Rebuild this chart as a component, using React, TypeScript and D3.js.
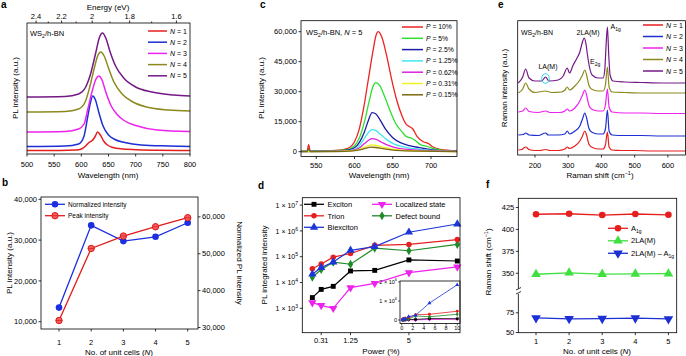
import React from "react";
import * as d3 from "d3";

const FONT = "'Liberation Sans', Arial, Helvetica, sans-serif";

// ---------------- Panel a data (wavelength nm, offset PL a.u.) ----------------
const aN1 = [[500,3.5],[560,3.6],[590,4],[600,5],[608,8],[614,11.5],[620,13.5],[625,17],[630,22],[635,19],[641,13],[648,9],[658,6.5],[675,5],[700,4.3],[740,3.8],[800,3.5]];
const aN2 = [[500,7.5],[570,8],[595,10],[605,18],[612,38],[617,52],[621,58],[626,54],[632,42],[640,28],[650,19],[660,15],[680,11.5],[710,9],[760,8],[800,7.5]];
const aN3 = [[500,22],[570,22.5],[595,25],[605,30],[612,45],[620,63],[627,75],[632,78],[638,74],[645,62],[655,48],[665,40],[680,33],[700,28.5],[740,24],[800,22.5]];
const aN4 = [[500,42],[570,42.5],[595,45],[607,52],[615,66],[623,84],[630,98],[636,102],[642,98],[650,86],[660,72],[675,60],[695,52],[720,47],[760,44],[800,43]];
const aN5 = [[500,57],[570,57.5],[595,60],[607,66],[617,80],[626,100],[633,116],[639,121],[645,116],[653,102],[663,88],[678,76],[700,67],[730,62],[770,59],[800,58]];
const aSeries = [aN1, aN2, aN3, aN4, aN5];
const aLegend = ["1", "2", "3", "4", "5"];
const aWaveTicks = [500, 550, 600, 650, 700, 750, 800];
const aEnergyTicks = [2.4, 2.2, 2.0, 1.8, 1.6];
const aEnergyMinor = [2.3, 2.1, 1.9, 1.7];

// ---------------- Panel b data ----------------
const bN = [1, 2, 3, 4, 5];
const bNormalized = [13460, 33610, 29750, 30810, 34250];
const bPeak = [31900, 51440, 54800, 57330, 59780];
const bPeakErr = [500, 900, 900, 1000, 900];
const bLeftTicks = [10000, 20000, 30000, 40000];
const bRightTicks = [30000, 40000, 50000, 60000];

// ---------------- Panel c data ----------------
const cP10 = [[530,300],[538,400],[540,3500],[542,400],[560,400],[580,800],[590,1500],[600,5000],[606,11000],[612,22000],[618,36000],[624,50000],[628,58000],[631,60000],[636,57000],[642,48000],[648,37000],[655,26000],[662,18000],[668,13500],[672,12500],[676,11500],[682,7500],[690,5000],[697,4000],[702,2500],[712,1200],[734,500]];
const cP5 = [[530,200],[570,400],[590,1000],[600,3000],[607,7500],[613,15000],[619,25000],[624,32500],[628,34500],[633,33000],[640,27000],[647,20000],[654,14000],[662,10000],[668,7500],[673,7000],[678,6000],[685,3800],[695,2600],[705,1400],[715,700],[734,300]];
const cP25 = [[530,150],[570,300],[590,800],[600,2000],[607,5000],[613,10000],[618,15500],[623,19500],[628,18800],[634,15500],[641,11000],[650,7000],[660,4500],[672,3000],[685,2000],[700,1000],[715,400],[734,200]];
const cP125 = [[530,100],[570,200],[595,700],[604,2000],[611,5500],[617,9000],[623,11000],[628,10500],[635,8300],[643,5800],[652,3800],[663,2500],[678,1500],[695,800],[715,300],[734,150]];
const cP062 = [[530,80],[570,150],[595,500],[605,1500],[612,3800],[618,5600],[623,6500],[629,6000],[636,4600],[645,3000],[656,1800],[670,1100],[690,600],[715,250],[734,100]];
const cP031 = [[530,60],[575,120],[598,500],[608,1400],[615,2600],[622,3400],[629,3100],[637,2300],[647,1400],[660,800],[680,400],[710,150],[734,80]];
const cP015 = [[530,50],[538,60],[540,1500],[542,60],[575,100],[598,400],[608,1000],[615,1800],[621,2300],[628,2100],[637,1500],[648,900],[662,500],[685,250],[734,60]];
const cSeries = [cP10, cP5, cP25, cP125, cP062, cP031, cP015];
const cLegend = ["10%", "5%", "2.5%", "1.25%", "0.62%", "0.31%", "0.15%"];
const cYTicks = [0, 15000, 30000, 45000, 60000];
const cXTicks = [550, 600, 650, 700];

// ---------------- Panel d data ----------------
const dPower = [0.15, 0.31, 0.62, 1.25, 2.5, 5, 10];
const dExciton = [2600, 5400, 7100, 28000, 29500, 75000, 68000];
const dTrion = [34000, 52000, 96000, 133000, 275000, 300000, 460000];
const dBiexciton = [21000, 38000, 62000, 177000, 245000, 890000, 1850000];
const dLocalized = [1650, 1300, 1000, 6300, 9300, 24000, 40000];
const dDefect = [16000, 32000, 61000, 51000, 213000, 170000, 300000];
const dNames = ["Exciton", "Trion", "Biexciton", "Localized state", "Defect bound"];
const dYExp = [3, 4, 5, 6, 7];
const dXTicks = [0.31, 1.25, 5];
const dInsetXTicks = [0, 2, 4, 6, 8, 10];
const dInsetYTicks = [0, 1, 2];

// ---------------- Panel e data (Raman shift, offset intensity) ----------------
const eN1 = [[150,5],[160,5.5],[172,8],[182,5.5],[200,4.5],[215,4.5],[232,5.5],[245,4.5],[270,4.5],[290,6],[297,8],[304,6.5],[320,9],[335,14],[343,19],[350,24],[356,19],[362,11],[370,8],[390,6],[405,6],[412,10],[418,23],[423,8],[432,5],[460,4.5],[500,4.5],[550,4],[600,4],[653,4]];
const eN2 = [[150,20],[165,20.5],[172,22],[182,20],[210,19.5],[232,22],[240,20],[270,20],[290,21],[297,24],[304,21],[320,24],[335,29],[343,36],[350,42],[356,36],[362,27],[370,23],[390,21],[405,21],[412,26],[418,45],[423,24],[432,20],[470,19.5],[520,19.5],[580,19],[653,19]];
const eN3 = [[150,43],[163,44],[172,47],[182,43.5],[210,42.5],[232,44],[245,42.5],[275,42.5],[290,44],[297,46],[304,44],[320,47],[335,54],[343,60],[350,65],[356,59],[362,50],[370,46],[390,44],[405,44],[412,50],[418,66],[423,48],[432,43],[470,42],[520,42],[580,41.5],[653,41.5]];
const eN4 = [[150,62],[163,66],[172,72],[182,66],[200,62.5],[232,64],[250,62.5],[280,63],[290,65],[297,68],[304,65],[320,69],[335,75],[343,80],[350,85],[356,79],[362,70],[370,66],[390,64],[405,64],[412,70],[418,88],[423,68],[432,63],[470,62.5],[520,62],[580,62],[653,62]];
const eN5 = [[150,72],[163,78],[172,86],[182,77],[200,74],[220,74],[232,78],[242,74],[270,75],[285,79],[297,87],[304,82],[315,90],[325,96],[335,103],[342,112],[348,117],[353,112],[358,100],[364,88],[372,80],[390,77],[405,77],[410,85],[414,110],[418,128],[422,100],[426,80],[435,74],[470,73],[520,72.5],[580,72],[653,72]];
const eSeries = [eN1, eN2, eN3, eN4, eN5];
const eXTicks = [200, 300, 400, 500, 600];

// ---------------- Panel f data ----------------
const fN = [1, 2, 3, 4, 5];
const fA1g = [417.3, 417.9, 416.4, 417.6, 416.7];
const f2LA = [348.9, 350.5, 349.0, 349.3, 349.5];
const fDiff = [68.5, 67.4, 67.6, 68.3, 67.2];
const fUpperTicks = [350, 375, 400, 425];
const fLowerTicks = [50, 75];

// ---------------- colours ----------------
const RED = "#e61e1e";
const BLUE = "#1c2fd2";
const MAG = "#ee22ee";
const OLIVE = "#8c8a1e";
const PURPLE = "#741a86";
const aColors = [RED, BLUE, MAG, OLIVE, PURPLE];
const cColors = ["#ee2222", "#2ee02e", "#1a1ea6", "#3ee8ee", "#dd22dd", "#f2f222", "#7a6a10"];
const dColors = ["#000000", "#e52020", "#1c36d8", "#ee22ee", "#1e8a28"];
const fColors = ["#e61e1e", "#3fe03f", "#1c2fd2"];

const SW = 0.8;

function Frame({ x0, x1, y0, y1 }: any) {
  return <rect x={x0} y={y0} width={x1 - x0} height={y1 - y0} fill="none" stroke="#000" strokeWidth={SW} />;
}

function XTicks({ scale, values, y, ly, fmt, fs = 7.5, len = 2.5, dir = 1 }: any) {
  return (
    <g>
      {values.map((v: number, i: number) => (
        <g key={i}>
          <line x1={scale(v)} x2={scale(v)} y1={y} y2={y + dir * len} stroke="#000" strokeWidth={SW} />
          <text x={scale(v)} y={ly} fontSize={fs} textAnchor="middle">{fmt ? fmt(v) : v}</text>
        </g>
      ))}
    </g>
  );
}

function YTicksLeft({ scale, values, x, fmt, fs = 7.5, len = 2.5 }: any) {
  return (
    <g>
      {values.map((v: number, i: number) => (
        <g key={i}>
          <line x1={x - len} x2={x} y1={scale(v)} y2={scale(v)} stroke="#000" strokeWidth={SW} />
          <text x={x - len - 1.5} y={scale(v) + fs * 0.35} fontSize={fs} textAnchor="end">{fmt ? fmt(v) : v}</text>
        </g>
      ))}
    </g>
  );
}

const comma = d3.format(",");

function PanelA() {
  const xA = d3.scaleLinear().domain([500, 800]).range([27, 190]);
  const yA = d3.scaleLinear().domain([0, 131]).range([154, 23]);
  const line = d3.line<number[]>().x(d => xA(d[0])).y(d => yA(d[1])).curve(d3.curveMonotoneX);
  return (
    <g>
      <text x={1} y={8} fontSize={10} fontWeight="bold">a</text>
      {aSeries.map((s, i) => (
        <path key={i} d={line(s) || ""} fill="none" stroke={aColors[i]} strokeWidth={1.5} />
      ))}
      <Frame x0={27} x1={190} y0={23} y1={154} />
      <XTicks scale={xA} values={aWaveTicks} y={154} ly={166.5} />
      {aEnergyTicks.map((e, i) => (
        <g key={i}>
          <line x1={xA(1240 / e)} x2={xA(1240 / e)} y1={23} y2={20.5} stroke="#000" strokeWidth={SW} />
          <text x={xA(1240 / e)} y={19} fontSize={7.5} textAnchor="middle">{d3.format("~g")(e)}</text>
        </g>
      ))}
      {aEnergyMinor.map((e, i) => (
        <line key={i} x1={xA(1240 / e)} x2={xA(1240 / e)} y1={23} y2={21.5} stroke="#000" strokeWidth={SW} />
      ))}
      <text x={108} y={9.5} fontSize={8} textAnchor="middle">Energy (eV)</text>
      <text x={108} y={177.5} fontSize={8} textAnchor="middle">Wavelength (nm)</text>
      <text transform="translate(17.5,88) rotate(-90)" fontSize={8} textAnchor="middle">PL intensity (a.u.)</text>
      <text x={30} y={35.5} fontSize={7.5}>WS<tspan dy={2} fontSize={5}>2</tspan><tspan dy={-2}>/h-BN</tspan></text>
      {aLegend.map((n, i) => (
        <g key={i}>
          <line x1={148} x2={167} y1={31 + i * 11.2} y2={31 + i * 11.2} stroke={aColors[i]} strokeWidth={1.5} />
          <text x={170} y={33.5 + i * 11.2} fontSize={7}><tspan fontStyle="italic">N</tspan> = {n}</text>
        </g>
      ))}
    </g>
  );
}

function PanelB() {
  const xB = d3.scaleLinear().domain([0.44, 5.32]).range([41, 198]);
  const yL = d3.scaleLinear().domain([8211, 40564]).range([329, 197]);
  const yR = d3.scaleLinear().domain([29593, 65397]).range([329, 197]);
  const blueLine = d3.line<number>().x((_, i) => xB(bN[i])).y(d => yL(d));
  const redLine = d3.line<number>().x((_, i) => xB(bN[i])).y(d => yR(d));
  return (
    <g>
      <text x={2} y={186} fontSize={10} fontWeight="bold">b</text>
      <path d={blueLine(bNormalized) || ""} fill="none" stroke="#1c2fe0" strokeWidth={1.3} />
      <path d={redLine(bPeak) || ""} fill="none" stroke="#e01a1a" strokeWidth={1.3} />
      {bNormalized.map((v, i) => (
        <circle key={i} cx={xB(bN[i])} cy={yL(v)} r={3.3} fill="#1c2fe0" />
      ))}
      {bPeak.map((v, i) => (
        <g key={i}>
          <line x1={xB(bN[i])} x2={xB(bN[i])} y1={yR(v - bPeakErr[i])} y2={yR(v + bPeakErr[i])} stroke="#c01010" strokeWidth={0.8} />
          <circle cx={xB(bN[i])} cy={yR(v)} r={3.2} fill="#f06060" stroke="#e01a1a" strokeWidth={1} />
          <line x1={xB(bN[i]) - 3.2} x2={xB(bN[i]) + 3.2} y1={yR(v)} y2={yR(v)} stroke="#e01a1a" strokeWidth={0.8} />
        </g>
      ))}
      <Frame x0={41} x1={198} y0={197} y1={329} />
      <YTicksLeft scale={yL} values={bLeftTicks} x={41} fmt={comma} />
      {bRightTicks.map((v, i) => (
        <g key={i}>
          <line x1={198} x2={200.5} y1={yR(v)} y2={yR(v)} stroke="#000" strokeWidth={SW} />
          <text x={202} y={yR(v) + 2.6} fontSize={7.5}>{comma(v)}</text>
        </g>
      ))}
      <XTicks scale={xB} values={bN} y={329} ly={344.5} />
      <text x={119} y={354.5} fontSize={8} textAnchor="middle">No. of unit cells (<tspan fontStyle="italic">N</tspan>)</text>
      <text transform="translate(12,263) rotate(-90)" fontSize={8} textAnchor="middle">PL intensity (a.u.)</text>
      <text transform="translate(237,263) rotate(90)" fontSize={8} textAnchor="middle">Normalized PL intensity</text>
      <line x1={45} x2={65} y1={204.3} y2={204.3} stroke="#1c2fe0" strokeWidth={1.3} />
      <circle cx={55} cy={204.3} r={3.3} fill="#1c2fe0" />
      <text x={68} y={206.6} fontSize={6.5}>Normalized intensity</text>
      <line x1={45} x2={65} y1={215.7} y2={215.7} stroke="#e01a1a" strokeWidth={1.3} />
      <circle cx={55} cy={215.7} r={3.2} fill="#f06060" stroke="#e01a1a" strokeWidth={1} />
      <line x1={51.8} x2={58.2} y1={215.7} y2={215.7} stroke="#e01a1a" strokeWidth={0.8} />
      <text x={68} y={218} fontSize={6.5}>Peak intensity</text>
    </g>
  );
}

function PanelC() {
  const xC = d3.scaleLinear().domain([530, 734]).range([301, 457]);
  const yC = d3.scaleLinear().domain([-2400, 65500]).range([156.5, 20.7]);
  const line = d3.line<number[]>().x(d => xC(d[0])).y(d => yC(d[1])).curve(d3.curveMonotoneX);
  return (
    <g>
      <text x={260} y={8} fontSize={10} fontWeight="bold">c</text>
      <clipPath id="clipC"><rect x={301} y={20.7} width={156} height={135.8} /></clipPath>
      <g clipPath="url(#clipC)">
        {cSeries.map((s, i) => (
          <path key={i} d={line(s) || ""} fill="none" stroke={cColors[i]} strokeWidth={1.3} />
        ))}
      </g>
      <Frame x0={301} x1={457} y0={20.7} y1={156.5} />
      <YTicksLeft scale={yC} values={cYTicks} x={301} fmt={comma} />
      <XTicks scale={xC} values={cXTicks} y={156.5} ly={167.5} />
      <text x={379} y={177.5} fontSize={8} textAnchor="middle">Wavelength (nm)</text>
      <text transform="translate(264,88) rotate(-90)" fontSize={8} textAnchor="middle">PL intensity (a.u.)</text>
      <text x={306} y={34.5} fontSize={7.5}>WS<tspan dy={2} fontSize={5}>2</tspan><tspan dy={-2}>/h-BN, </tspan><tspan fontStyle="italic">N</tspan> = 5</text>
      {cLegend.map((p, i) => (
        <g key={i}>
          <line x1={402} x2={423} y1={27 + i * 11.3} y2={27 + i * 11.3} stroke={cColors[i]} strokeWidth={1.5} />
          <text x={426} y={29.4 + i * 11.3} fontSize={6.8}><tspan fontStyle="italic">P</tspan> = {p}</text>
        </g>
      ))}
    </g>
  );
}

function Marker({ kind, x, y, color, size }: any) {
  const types = [d3.symbolSquare, d3.symbolCircle, d3.symbolTriangle, d3.symbolTriangle, d3.symbolDiamond];
  const sym = d3.symbol().type(types[kind]).size(size)();
  const rot = kind === 3 ? 180 : 0;
  return <path d={sym || ""} transform={`translate(${x},${y}) rotate(${rot})`} fill={color} />;
}

function PanelD() {
  const xD = d3.scalePow().exponent(0.5).domain([0.038, 10.33]).range([302.3, 460]);
  const yD = d3.scaleLog().domain([Math.pow(10, 2.054), Math.pow(10, 7.287)]).range([332.7, 197.7]);
  const series = [dExciton, dTrion, dBiexciton, dLocalized, dDefect];
  const line = d3.line<number>().x((_, i) => xD(dPower[i])).y(d => yD(d));
  const xI = d3.scaleLinear().domain([-0.3, 10.5]).range([400, 460]);
  const yI = d3.scaleLinear().domain([-184000, 2050000]).range([323.5, 281]);
  const lineI = d3.line<number>().x((_, i) => xI(dPower[i])).y(d => yI(d));
  const drawOrder = [3, 0, 4, 1, 2];
  return (
    <g>
      <text x={258} y={189} fontSize={10} fontWeight="bold">d</text>
      {drawOrder.map(k => (
        <g key={k}>
          <path d={line(series[k]) || ""} fill="none" stroke={dColors[k]} strokeWidth={1.2} />
          {series[k].map((v, i) => (
            <Marker key={i} kind={k} x={xD(dPower[i])} y={yD(v)} color={dColors[k]} size={k === 2 || k === 3 ? 30 : 24} />
          ))}
        </g>
      ))}
      {/* inset */}
      <rect x={400} y={281} width={60} height={42.5} fill="#fff" stroke="#000" strokeWidth={SW} />
      <g>
        {drawOrder.map(k => (
          <g key={k}>
            <path d={lineI(series[k]) || ""} fill="none" stroke={dColors[k]} strokeWidth={0.8} />
            {series[k].map((v, i) => (
              <Marker key={i} kind={k} x={xI(dPower[i])} y={yI(v)} color={dColors[k]} size={7} />
            ))}
          </g>
        ))}
      </g>
      {dInsetXTicks.map((v, i) => (
        <g key={i}>
          <line x1={xI(v)} x2={xI(v)} y1={323.5} y2={325.5} stroke="#000" strokeWidth={0.6} />
          <text x={xI(v)} y={330.3} fontSize={5.5} textAnchor="middle">{v}</text>
        </g>
      ))}
      {dInsetYTicks.map((v, i) => (
        <g key={i}>
          <line x1={398} x2={400} y1={yI(v * 1e6)} y2={yI(v * 1e6)} stroke="#000" strokeWidth={0.6} />
          <text x={397} y={yI(v * 1e6) + 2} fontSize={5.5} textAnchor="end">
            {v === 0 ? "0" : <>{v} × 10<tspan dy={-2.5} fontSize={4}>6</tspan></>}
          </text>
        </g>
      ))}
      <Frame x0={302.3} x1={460} y0={197.7} y1={332.7} />
      {dYExp.map((p, i) => (
        <g key={i}>
          <line x1={299.8} x2={302.3} y1={yD(Math.pow(10, p))} y2={yD(Math.pow(10, p))} stroke="#000" strokeWidth={SW} />
          <text x={298} y={yD(Math.pow(10, p)) + 2.6} fontSize={7} textAnchor="end">1 × 10<tspan dy={-3} fontSize={5}>{p}</tspan></text>
        </g>
      ))}
      <XTicks scale={xD} values={dXTicks} y={332.7} ly={343} fmt={(v: number) => d3.format("~g")(v)} />
      <text x={381} y={354} fontSize={8} textAnchor="middle">Power (%)</text>
      <text transform="translate(267,265) rotate(-90)" fontSize={8} textAnchor="middle">PL integrated intensity</text>
      {dNames.map((n, k) => {
        const col = k < 3 ? 0 : 1;
        const row = k < 3 ? k : k - 3;
        const x0 = col === 0 ? 304 : 372;
        const y = 204.3 + row * 11.5;
        return (
          <g key={k}>
            <line x1={x0} x2={x0 + 20} y1={y} y2={y} stroke={dColors[k]} strokeWidth={1.3} />
            <Marker kind={k} x={x0 + 10} y={y} color={dColors[k]} size={k === 2 || k === 3 ? 30 : 24} />
            <text x={x0 + 23.5} y={y + 2.7} fontSize={7.5}>{n}</text>
          </g>
        );
      })}
    </g>
  );
}

function PanelE() {
  const xE = d3.scaleLinear().domain([148, 653]).range([517.7, 685.5]);
  const yE = d3.scaleLinear().domain([0, 134.3]).range([155, 20.7]);
  const line = d3.line<number[]>().x(d => xE(d[0])).y(d => yE(d[1])).curve(d3.curveMonotoneX);
  return (
    <g>
      <text x={498} y={8} fontSize={10} fontWeight="bold">e</text>
      {eSeries.map((s, i) => (
        <path key={i} d={line(s) || ""} fill="none" stroke={aColors[i]} strokeWidth={1.2} />
      ))}
      <Frame x0={517.7} x1={685.5} y0={20.7} y1={155} />
      <XTicks scale={xE} values={eXTicks} y={155} ly={168} />
      <text x={600} y={177.5} fontSize={8} textAnchor="middle">Raman shift (cm<tspan dy={-3} fontSize={5.5}>−1</tspan><tspan dy={3}>)</tspan></text>
      <text transform="translate(507,88) rotate(-90)" fontSize={8} textAnchor="middle">Raman intensity (a.u.)</text>
      <text x={521} y={35} fontSize={7}>WS<tspan dy={2} fontSize={5}>2</tspan><tspan dy={-2}>/h-BN</tspan></text>
      <text x={588} y={35} fontSize={7} textAnchor="middle">2LA(M)</text>
      <text x={610.5} y={28.5} fontSize={7}>A<tspan dy={2} fontSize={5}>1g</tspan></text>
      <text x={590} y={64} fontSize={7}>E<tspan dy={2} fontSize={5}>2g</tspan></text>
      <text x={548} y={68.5} fontSize={7} textAnchor="middle">LA(M)</text>
      <ellipse cx={545.5} cy={78.5} rx={3.8} ry={4.8} fill="none" stroke="#2ed8e8" strokeWidth={1} />
      {aLegend.map((n, i) => (
        <g key={i}>
          <line x1={643} x2={663} y1={25 + i * 11.5} y2={25 + i * 11.5} stroke={aColors[i]} strokeWidth={1.5} />
          <text x={666} y={27.5 + i * 11.5} fontSize={7}><tspan fontStyle="italic">N</tspan> = {n}</text>
        </g>
      ))}
    </g>
  );
}

function PanelF() {
  const xF = d3.scaleLinear().domain([0.465, 5.25]).range([518.3, 676.7]);
  const yU = d3.scaleLinear().domain([330, 435.5]).range([290.8, 198.3]);
  const yLo = d3.scaleLinear().domain([49.8, 86]).range([332.7, 304.1]);
  const series = [fA1g, f2LA, fDiff];
  const scales = [yU, yU, yLo];
  const kinds = [1, 2, 3];
  return (
    <g>
      <text x={486} y={188} fontSize={10} fontWeight="bold">f</text>
      {series.map((s, k) => {
        const line = d3.line<number>().x((_, i) => xF(fN[i])).y(d => scales[k](d));
        return (
          <g key={k}>
            <path d={line(s) || ""} fill="none" stroke={fColors[k]} strokeWidth={1.3} />
            {s.map((v, i) => (
              <Marker key={i} kind={kinds[k]} x={xF(fN[i])} y={scales[k](v)} color={fColors[k]} size={kinds[k] === 1 ? 34 : 40} />
            ))}
          </g>
        );
      })}
      <Frame x0={518.3} x1={676.7} y0={198.3} y1={332.7} />
      <rect x={516} y={288.5} width={5} height={5.5} fill="#fff" />
      <line x1={516} x2={521} y1={290} y2={287.5} stroke="#000" strokeWidth={SW} />
      <line x1={516} x2={521} y1={294} y2={291.5} stroke="#000" strokeWidth={SW} />
      <YTicksLeft scale={yU} values={fUpperTicks} x={518.3} />
      <YTicksLeft scale={yLo} values={fLowerTicks} x={518.3} />
      <XTicks scale={xF} values={fN} y={332.7} ly={343.5} />
      <text x={597} y={354} fontSize={8} textAnchor="middle">No. of unit cells (<tspan fontStyle="italic">N</tspan>)</text>
      <text transform="translate(491,262) rotate(-90)" fontSize={8} textAnchor="middle">Raman shift (cm<tspan dy={-3} fontSize={5.5}>−1</tspan><tspan dy={3}>)</tspan></text>
      {[0, 1, 2].map(k => {
        const y = 228.3 + k * 12.5;
        return (
          <g key={k}>
            <line x1={608} x2={628} y1={y} y2={y} stroke={fColors[k]} strokeWidth={1.3} />
            <Marker kind={kinds[k]} x={618} y={y} color={fColors[k]} size={kinds[k] === 1 ? 34 : 40} />
            <text x={631} y={y + 2.6} fontSize={7.5}>
              {k === 0 ? <>A<tspan dy={2} fontSize={5}>1g</tspan></> : k === 1 ? "2LA(M)" : <>2LA(M) – A<tspan dy={2} fontSize={5}>1g</tspan></>}
            </text>
          </g>
        );
      })}
    </g>
  );
}

export default function App() {
  return (
    <svg width={686} height={356} style={{ position: "absolute", left: 0, top: 0, background: "#fff" }} fontFamily={FONT}>
      <rect width={686} height={356} fill="#fff" />
      <PanelA />
      <PanelB />
      <PanelC />
      <PanelD />
      <PanelE />
      <PanelF />
    </svg>
  );
}
